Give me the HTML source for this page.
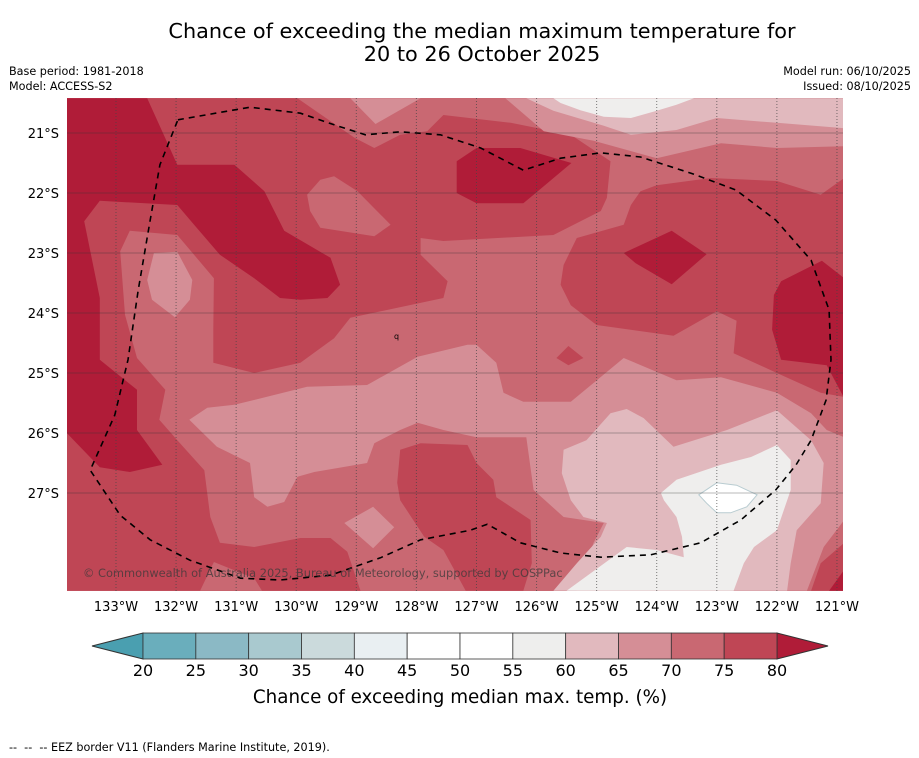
<!DOCTYPE html>
<html><head><meta charset="utf-8"><style>
html,body{margin:0;padding:0;background:#fff;width:919px;height:758px;overflow:hidden;font-family:"DejaVu Sans",sans-serif;}
</style></head><body>
<svg id="chart" width="919" height="758" viewBox="0 0 919 758" xmlns="http://www.w3.org/2000/svg" font-family="DejaVu Sans, sans-serif">
<text x="482" y="38" font-size="20.8" text-anchor="middle">Chance of exceeding the median maximum temperature for</text>
<text x="482" y="61" font-size="20.8" text-anchor="middle">20 to 26 October 2025</text>
<text x="9" y="75" font-size="11.2">Base period: 1981-2018</text>
<text x="9" y="90" font-size="11.2">Model: ACCESS-S2</text>
<text x="911" y="75" font-size="11.2" text-anchor="end">Model run: 06/10/2025</text>
<text x="911" y="90" font-size="11.2" text-anchor="end">Issued: 08/10/2025</text>
<defs><clipPath id="mapclip"><rect x="67" y="98" width="776" height="493"/></clipPath></defs>
<g id="map" clip-path="url(#mapclip)"></g>
<g id="axes"></g>
<g id="cbar"></g>
<text x="460" y="703" font-size="18.3" text-anchor="middle">Chance of exceeding median max. temp. (%)</text>
<text x="9" y="751" font-size="11.2" xml:space="preserve">--  --  -- EEZ border V11 (Flanders Marine Institute, 2019).</text>
</svg>
<script>
const lonTicks=[133,132,131,130,129,128,127,126,125,124,123,122,121];
const latTicks=[21,22,23,24,25,26,27];
const cbLevels=[20,25,30,35,40,45,50,55,60,65,70,75,80];
const cbColors=["#6aaebc","#8bb9c5","#a9c9cf","#cbdadc","#e9eff2","#ffffff","#ffffff","#eeeeed","#e1b9be","#d58e96","#c96872","#bf4655"];
const cbUnder="#4a9fb0", cbOver="#b01c38";
const levelColor={"70":"#c96872","75":"#bf4655","65":"#d58e96","60":"#e1b9be","55":"#efeeed","45":"#ffffff","80":"#b01c38"};
// contour regions [lonW, latS]
const reg75A=[[133.82,20.42],[129.98,20.42],[129.03,21.08],[128.7,21.25],[128.27,21.03],[127.82,20.97],[127.55,20.7],[126.43,20.83],[125.43,21.03],[124.77,21.47],[124.83,22.08],[124.93,22.3],[125.72,22.7],[127.55,22.8],[127.93,22.75],[127.93,23.03],[127.48,23.47],[127.55,23.75],[129.1,24.08],[129.37,24.42],[129.48,24.5],[129.93,24.83],[130.7,25],[131.38,24.83],[131.38,24.28],[131.37,23.42],[131.98,22.7],[132.77,22.63],[132.93,22.97],[132.85,24.03],[132.65,24.75],[132.18,25.28],[132.28,25.78],[131.98,26.12],[131.53,26.62],[131.43,27.4],[131.27,27.83],[130.7,27.9],[129.93,27.75],[129.43,27.75],[129.15,27.98],[128.93,28.63],[133.82,28.63]];
const reg75B=[[128.27,26.28],[127.93,26.17],[127.15,26.2],[127,26.5],[126.72,26.78],[126.67,27.07],[126.1,27.45],[126.08,28.17],[126.22,28.63],[127.18,28.63],[127.55,27.95],[127.87,27.73],[128.27,27.12],[128.32,26.83]];
const reg75C=[[124.27,21.97],[124,21.87],[123.1,21.75],[122,21.8],[121.27,22.03],[120.88,21.75],[120.88,25.4],[121.27,25.33],[122,25],[122.72,24.67],[122.67,24.13],[123,23.97],[123.72,24.38],[125,24.2],[125.43,23.87],[125.6,23.53],[125.55,23.2],[125.33,22.75],[124.55,22.53],[124.43,22.2]];
const reg75E=[[121.27,28.17],[120.88,27.83],[120.88,28.63],[121.43,28.63]];
const reg75F=[[125.67,24.75],[125.47,24.55],[125.22,24.75],[125.47,24.87]];
const reg70A=[[129.82,22.03],[129.6,21.78],[129.37,21.72],[128.98,21.97],[128.43,22.53],[128.7,22.72],[129.6,22.58],[129.77,22.3]];
const reg70B=[[131.6,28.63],[131.37,28.15],[130.7,28.42],[130.57,28.63]];
const reg65H=[[129.1,20.42],[127.93,20.42],[128.68,20.85]];
const reg65I=[[126.52,20.42],[120.88,20.42],[120.88,21.22],[122,21.25],[122.93,21.17],[124,21.42],[125.05,21.13],[125.88,20.97]];
const reg65J=[[132.37,23],[131.98,22.98],[131.73,23.45],[131.77,23.78],[132.02,24.07],[132.4,23.78],[132.48,23.45]];
const reg65K=[[131.78,25.78],[131.48,25.58],[131.03,25.53],[129.82,25.23],[128.82,25.2],[127.98,24.73],[127.15,24.53],[127,24.53],[126.67,24.83],[126.55,25.33],[126.22,25.48],[125.43,25.48],[124.55,24.75],[123.67,25.12],[122.93,25.07],[122,25.33],[121.43,25.67],[121.17,25.95],[120.88,26.07],[120.88,27.45],[121.22,27.9],[121.5,28.63],[125.33,28.63],[125.05,27.83],[124.88,27.5],[125.55,27.4],[126.05,26.95],[126.17,26.07],[127,26.07],[127.55,25.95],[127.98,25.83],[128.27,25.95],[128.7,26.17],[128.82,26.5],[129.7,26.65],[129.98,26.73],[130.2,27.15],[130.48,27.23],[130.7,27.07],[130.77,26.5],[131.32,26.23]];
const reg65L=[[129.2,27.5],[128.72,27.23],[128.37,27.57],[128.72,27.92]];
const reg60N=[[126.17,20.42],[120.88,20.42],[120.88,20.92],[122,20.83],[123,20.75],[123.67,20.95],[124.43,21.03],[124.88,20.88],[125.72,20.63]];
const reg60O=[[125.55,26.28],[125.17,26.12],[124.77,25.67],[124.5,25.6],[124.22,25.75],[123.72,26.23],[122.83,25.95],[122,25.62],[121.43,26.12],[121.22,26.5],[121.27,27.17],[121.67,27.62],[121.77,28.17],[121.83,28.63],[125.72,28.63],[125.33,28.17],[124.93,27.73],[124.83,27.5],[125.22,27.4],[125.43,27.12],[125.58,26.67]];
const reg55P=[[125.72,20.42],[123.38,20.42],[123.67,20.53],[124,20.63],[124.43,20.75],[124.88,20.73],[125.27,20.62],[125.6,20.5]];
const reg55Q=[[123.93,27],[123.67,26.78],[122.93,26.53],[122.43,26.4],[122,26.2],[121.77,26.45],[121.77,26.95],[122,27.62],[122.38,27.9],[122.55,28.17],[122.72,28.63],[125.5,28.63],[124.5,27.9],[124,27.95],[123.55,28.07],[123.58,27.73],[123.67,27.4],[123.88,27.12]];
const reg45R=[[123.3,27.03],[123,26.83],[122.67,26.87],[122.33,27.03],[122.5,27.23],[122.77,27.33],[123,27.33],[123.17,27.17]];
const reg80D1=[[133.82,20.42],[132.48,20.42],[131.98,21.53],[131.03,21.53],[130.53,21.97],[130.2,22.63],[129.43,23.08],[129.27,23.53],[129.48,23.75],[129.93,23.78],[130.27,23.75],[130.7,23.42],[131.27,23.03],[131.7,22.53],[131.98,22.2],[133.27,22.13],[133.53,22.47],[133.27,23.75],[133.27,24.78],[132.65,25.28],[132.65,25.95],[132.23,26.53],[132.77,26.65],[133.27,26.57],[133.82,26]];
const reg80D2=[[127.33,21.47],[127,21.25],[126.27,21.25],[125.42,21.5],[126.05,22.03],[126.22,22.17],[127,22.17],[127.33,22]];
const reg80D3=[[124.55,23],[123.75,22.63],[123.17,23.02],[123.75,23.52],[124.35,23.17]];
const reg80D4=[[122.05,23.7],[121.93,23.47],[121.25,23.13],[120.88,23.42],[120.88,25.42],[121.17,24.87],[121.93,24.78],[122.08,24.28]];
const reg80D5=[[121.13,28.63],[120.88,28.28],[120.88,28.63]];
const eezLine=[[131.97,20.78],[130.77,20.57],[129.93,20.67],[129.35,20.87],[128.85,21.03],[128.27,20.98],[127.6,21.03],[126.93,21.25],[126.22,21.62],[125.6,21.42],[124.93,21.33],[124.27,21.4],[123.43,21.67],[122.68,21.95],[122.02,22.45],[121.43,23.12],[121.13,23.95],[121.1,24.78],[121.18,25.45],[121.43,26.12],[121.68,26.53],[122.02,26.95],[122.6,27.45],[123.27,27.83],[124.1,28.03],[124.93,28.07],[125.6,28],[126.27,27.83],[126.82,27.52],[127.1,27.62],[127.93,27.78],[128.6,28.08],[129.43,28.37],[130.27,28.45],[130.93,28.42],[131.77,28.12],[132.43,27.78],[132.93,27.37],[133.43,26.62],[133.02,25.7],[132.8,24.78],[132.63,23.62],[132.43,22.45],[132.27,21.53],[131.97,20.78]];

const NS="http://www.w3.org/2000/svg";
function xScale(lon){return 116+(133-lon)*60.08;}
function yScale(lat){return 133+(lat-21)*60;}
function cbX(v){return 143+(v-20)*(634/60);}
function mk(tag,attrs,parent){const e=document.createElementNS(NS,tag);for(const k in attrs)e.setAttribute(k,attrs[k]);parent.appendChild(e);return e;}
function pts(arr){return arr.map(p=>xScale(p[0]).toFixed(1)+","+yScale(p[1]).toFixed(1)).join(" ");}
const map=document.getElementById('map');
const bg=mk('rect',{x:67,y:98,width:776,height:493,fill:levelColor["70"]},map);


const layers=[
 ["75",reg75A,"contour-75-80-west"],["75",reg75B,"contour-75-80-south"],["75",reg75C,"contour-75-80-east"],["75",reg75E,"contour-75-80-southeast"],["75",reg75F,"contour-75-80-small"],
 ["70",reg70A,"contour-70-75-north"],["70",reg70B,"contour-70-75-south"],
 ["65",reg65H,"contour-65-70-top"],["65",reg65I,"contour-65-70-northeast"],["65",reg65J,"contour-65-70-west"],["65",reg65K,"contour-65-70-central"],["65",reg65L,"contour-65-70-diamond"],
 ["60",reg60N,"contour-60-65-north"],["60",reg60O,"contour-60-65-south"],
 ["55",reg55P,"contour-55-60-north"],["55",reg55Q,"contour-55-60-south"],
 ["45",reg45R,"contour-45-55-core"],
 ["80",reg80D1,"contour-above-80-west"],["80",reg80D2,"contour-above-80-north"],["80",reg80D3,"contour-above-80-center"],["80",reg80D4,"contour-above-80-east"],["80",reg80D5,"contour-above-80-corner"]
];
layers.forEach(L=>{
 const attrs={points:pts(L[1]),fill:levelColor[L[0]]};
 if(L[0]==="45"){attrs.stroke="#b9ccd1";attrs["stroke-width"]="1";}
 const p=mk('polygon',attrs,map);
 
 
});
lonTicks.forEach(l=>{
 const g=mk('line',{x1:xScale(l),x2:xScale(l),y1:98,y2:591,stroke:"#444",'stroke-width':1,'stroke-dasharray':'1,2','stroke-opacity':0.7},map);
 
 
});
latTicks.forEach(l=>{
 const g=mk('line',{x1:67,x2:843,y1:yScale(l),y2:yScale(l),stroke:"#333",'stroke-width':1,'stroke-opacity':0.35},map);
 
 
});
const eez=mk('polyline',{points:pts(eezLine),fill:'none',stroke:'#000','stroke-width':1.6,'stroke-dasharray':'6,5'},map);


const cp=mk('text',{x:83,y:577,'font-size':11.4,fill:'#3a3a3a','fill-opacity':0.75},map);
cp.textContent="© Commonwealth of Australia 2025, Bureau of Meteorology, supported by COSPPac";


const q=mk('text',{x:394,y:339,'font-size':8,fill:'#000'},map);
q.textContent="q";


const axes=document.getElementById('axes');
lonTicks.forEach(l=>{
 const t=mk('text',{x:xScale(l),y:611,'font-size':13,'text-anchor':'middle'},axes);
 t.textContent=l+"°W";
 
 
});
latTicks.forEach(l=>{
 const t=mk('text',{x:59,y:yScale(l)+5,'font-size':13,'text-anchor':'end'},axes);
 t.textContent=l+"°S";
 
 
});
const cb=document.getElementById('cbar');
const y0=633,h=26;
const under=mk('polygon',{points:`${cbX(20)},${y0} ${cbX(20)},${y0+h} 92,${y0+h/2}`,fill:cbUnder,stroke:'#333','stroke-width':1},cb);


const over=mk('polygon',{points:`${cbX(80)},${y0} ${cbX(80)},${y0+h} 828,${y0+h/2}`,fill:cbOver,stroke:'#333','stroke-width':1},cb);


cbColors.forEach((c,i)=>{
 const r=mk('rect',{x:cbX(cbLevels[i]),y:y0,width:cbX(cbLevels[i+1])-cbX(cbLevels[i]),height:h,fill:c,stroke:'#333','stroke-width':0.8},cb);
 
 
});
cbLevels.forEach(v=>{
 const t=mk('text',{x:cbX(v),y:676,'font-size':16,'text-anchor':'middle'},cb);
 t.textContent=v;
 
 
});
</script>
</body></html>
